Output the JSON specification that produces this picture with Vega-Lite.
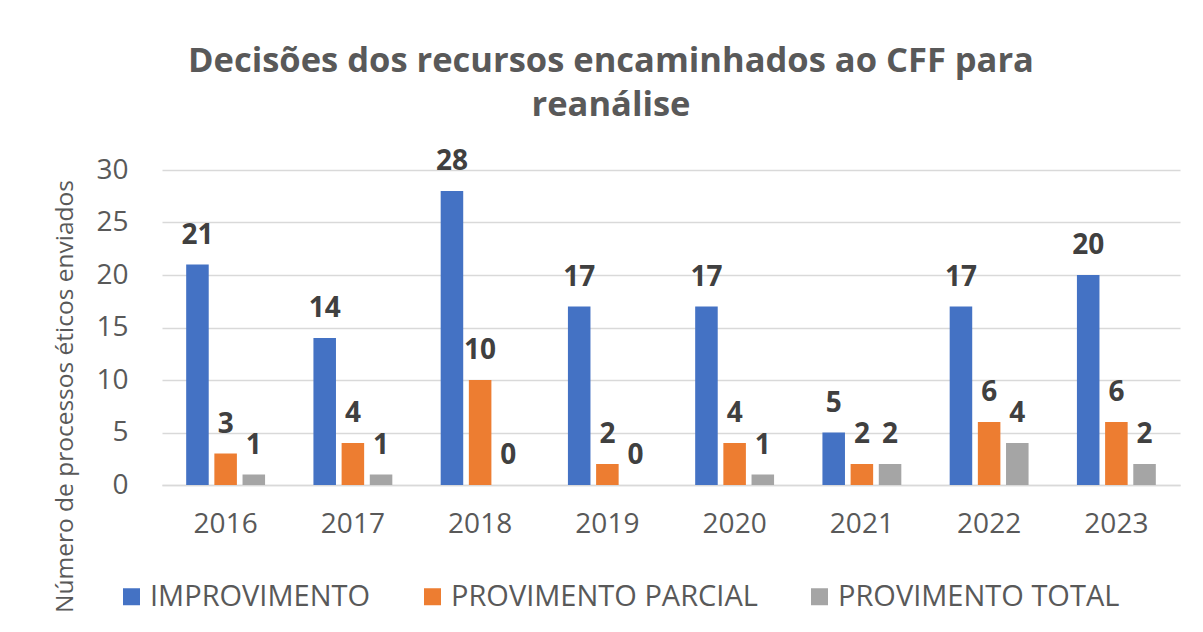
{
  "$schema": "https://vega.github.io/schema/vega-lite/v6.json",
  "width": 1018,
  "height": 315,
  "autosize": {"type": "none"},
  "padding": {"left": 162, "top": 170, "right": 23, "bottom": 147},
  "background": "white",
  "title": {
    "text": ["Decisões dos recursos  encaminhados ao CFF para", "reanálise"],
    "font": "Open Sans",
    "fontSize": 34.5,
    "fontWeight": "bold",
    "color": "#595959",
    "anchor": "middle",
    "dx": -60,
    "lineHeight": 44,
    "offset": 25
  },
  "data": {
    "values": [
      {"ano": "2016", "decisao": "IMPROVIMENTO", "n": 21},
      {"ano": "2016", "decisao": "PROVIMENTO PARCIAL", "n": 3},
      {"ano": "2016", "decisao": "PROVIMENTO TOTAL", "n": 1},
      {"ano": "2017", "decisao": "IMPROVIMENTO", "n": 14},
      {"ano": "2017", "decisao": "PROVIMENTO PARCIAL", "n": 4},
      {"ano": "2017", "decisao": "PROVIMENTO TOTAL", "n": 1},
      {"ano": "2018", "decisao": "IMPROVIMENTO", "n": 28},
      {"ano": "2018", "decisao": "PROVIMENTO PARCIAL", "n": 10},
      {"ano": "2018", "decisao": "PROVIMENTO TOTAL", "n": 0},
      {"ano": "2019", "decisao": "IMPROVIMENTO", "n": 17},
      {"ano": "2019", "decisao": "PROVIMENTO PARCIAL", "n": 2},
      {"ano": "2019", "decisao": "PROVIMENTO TOTAL", "n": 0},
      {"ano": "2020", "decisao": "IMPROVIMENTO", "n": 17},
      {"ano": "2020", "decisao": "PROVIMENTO PARCIAL", "n": 4},
      {"ano": "2020", "decisao": "PROVIMENTO TOTAL", "n": 1},
      {"ano": "2021", "decisao": "IMPROVIMENTO", "n": 5},
      {"ano": "2021", "decisao": "PROVIMENTO PARCIAL", "n": 2},
      {"ano": "2021", "decisao": "PROVIMENTO TOTAL", "n": 2},
      {"ano": "2022", "decisao": "IMPROVIMENTO", "n": 17},
      {"ano": "2022", "decisao": "PROVIMENTO PARCIAL", "n": 6},
      {"ano": "2022", "decisao": "PROVIMENTO TOTAL", "n": 4},
      {"ano": "2023", "decisao": "IMPROVIMENTO", "n": 20},
      {"ano": "2023", "decisao": "PROVIMENTO PARCIAL", "n": 6},
      {"ano": "2023", "decisao": "PROVIMENTO TOTAL", "n": 2}
    ]
  },
  "encoding": {
    "x": {
      "field": "ano",
      "type": "nominal",
      "scale": {"paddingInner": 0.38, "paddingOuter": 0.19},
      "axis": {
        "title": null,
        "labelAngle": 0,
        "labelFont": "Open Sans",
        "labelFontSize": 28,
        "labelColor": "#595959",
        "labelPadding": 25,
        "labelBaseline": "top",
        "ticks": false,
        "domain": true,
        "domainColor": "#D9D9D9",
        "domainWidth": 1.5,
        "grid": false
      }
    },
    "xOffset": {
      "field": "decisao",
      "type": "nominal",
      "scale": {"paddingInner": 0.2, "paddingOuter": 0}
    },
    "y": {
      "field": "n",
      "type": "quantitative",
      "scale": {"domain": [0, 30], "nice": false},
      "axis": {
        "values": [0, 5, 10, 15, 20, 25, 30],
        "title": "Número de processos éticos enviados",
        "titleFont": "Open Sans",
        "titleFontSize": 24.5,
        "titleFontWeight": "normal",
        "titleColor": "#595959",
        "titleAngle": -90,
        "titleX": -97,
        "titleY": 226,
        "titleAlign": "center",
        "titleBaseline": "middle",
        "labelFont": "Open Sans",
        "labelFontSize": 28,
        "labelColor": "#595959",
        "labelPadding": 34,
        "ticks": false,
        "domain": false,
        "grid": true,
        "gridColor": "#D9D9D9",
        "gridWidth": 1.5
      }
    }
  },
  "layer": [
    {
      "mark": {"type": "bar"},
      "encoding": {
        "color": {
          "field": "decisao",
          "type": "nominal",
          "scale": {
            "domain": ["IMPROVIMENTO", "PROVIMENTO PARCIAL", "PROVIMENTO TOTAL"],
            "range": ["#4472C4", "#ED7D31", "#A5A5A5"]
          },
          "legend": {
            "title": null,
            "orient": "none",
            "direction": "horizontal",
            "legendX": -45,
            "legendY": 412,
            "symbolType": "square",
            "symbolSize": 289,
            "symbolStrokeWidth": 0,
            "symbolOpacity": 1,
            "labelFont": "Open Sans",
            "labelFontSize": 29,
            "labelColor": "#595959",
            "labelOffset": 4,
            "columnPadding": 47,
            "labelLimit": 400
          }
        }
      }
    },
    {
      "mark": {
        "type": "text",
        "baseline": "alphabetic",
        "dy": -21,
        "font": "Open Sans",
        "fontSize": 28,
        "fontWeight": "bold",
        "color": "#404040"
      },
      "encoding": {
        "text": {"field": "n", "type": "quantitative"}
      }
    }
  ],
  "config": {"view": {"stroke": null}}
}
